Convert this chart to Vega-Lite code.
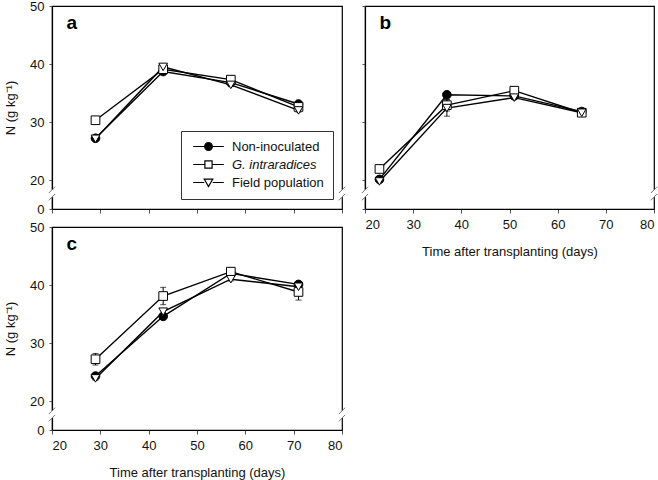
{
  "$schema": "https://vega.github.io/schema/vega-lite/v6.json",
  "background": "white",
  "padding": {"left": 3, "top": -1, "right": 5, "bottom": 0},
  "config": {
    "font": "Liberation Sans",
    "view": {"stroke": "black", "strokeWidth": 1.2},
    "axis": {
      "grid": false, "domainColor": "black", "domainWidth": 1.2, "tickColor": "#555",
      "tickSize": 3, "labelFontSize": 13, "titleFontSize": 13, "labelColor": "#111",
      "titleColor": "#111", "titleFontWeight": "normal", "labelPadding": 5
    },
    "legend": {"labelFontSize": 13, "labelColor": "#111"}
  },
  "datasets": {
    "n": [
      {"panel": "a", "series": "Non-inoculated", "day": 29, "N": 27.2, "err": 0.3},
      {"panel": "a", "series": "Non-inoculated", "day": 43, "N": 38.7, "err": 0.3},
      {"panel": "a", "series": "Non-inoculated", "day": 57, "N": 36.8, "err": 0.3},
      {"panel": "a", "series": "Non-inoculated", "day": 71, "N": 33.1, "err": 0.3},
      {"panel": "a", "series": "G. intraradices", "day": 29, "N": 30.3, "err": 0.3},
      {"panel": "a", "series": "G. intraradices", "day": 43, "N": 39.1, "err": 0.3},
      {"panel": "a", "series": "G. intraradices", "day": 57, "N": 37.3, "err": 0.3},
      {"panel": "a", "series": "G. intraradices", "day": 71, "N": 32.6, "err": 0.3},
      {"panel": "a", "series": "Field population", "day": 29, "N": 27.1, "err": 0.3},
      {"panel": "a", "series": "Field population", "day": 43, "N": 39.5, "err": 0.3},
      {"panel": "a", "series": "Field population", "day": 57, "N": 36.4, "err": 0.3},
      {"panel": "a", "series": "Field population", "day": 71, "N": 32.0, "err": 0.3},
      {"panel": "b", "series": "Non-inoculated", "day": 23, "N": 20.1, "err": 0.3},
      {"panel": "b", "series": "Non-inoculated", "day": 37, "N": 34.7, "err": 0.3},
      {"panel": "b", "series": "Non-inoculated", "day": 51, "N": 34.5, "err": 0.3},
      {"panel": "b", "series": "Non-inoculated", "day": 65, "N": 31.8, "err": 0.3},
      {"panel": "b", "series": "G. intraradices", "day": 23, "N": 21.9, "err": 0.3},
      {"panel": "b", "series": "G. intraradices", "day": 37, "N": 32.9, "err": 1.0},
      {"panel": "b", "series": "G. intraradices", "day": 51, "N": 35.4, "err": 0.3},
      {"panel": "b", "series": "G. intraradices", "day": 65, "N": 31.6, "err": 0.3},
      {"panel": "b", "series": "Field population", "day": 23, "N": 19.0, "err": 0.3},
      {"panel": "b", "series": "Field population", "day": 37, "N": 32.4, "err": 1.4},
      {"panel": "b", "series": "Field population", "day": 51, "N": 34.2, "err": 0.3},
      {"panel": "b", "series": "Field population", "day": 65, "N": 31.6, "err": 0.3},
      {"panel": "c", "series": "Non-inoculated", "day": 29, "N": 24.3, "err": 0.3},
      {"panel": "c", "series": "Non-inoculated", "day": 43, "N": 34.6, "err": 0.4},
      {"panel": "c", "series": "Non-inoculated", "day": 57, "N": 42.0, "err": 0.3},
      {"panel": "c", "series": "Non-inoculated", "day": 71, "N": 40.1, "err": 0.3},
      {"panel": "c", "series": "G. intraradices", "day": 29, "N": 27.2, "err": 1.0},
      {"panel": "c", "series": "G. intraradices", "day": 43, "N": 38.1, "err": 1.5},
      {"panel": "c", "series": "G. intraradices", "day": 57, "N": 42.3, "err": 0.3},
      {"panel": "c", "series": "G. intraradices", "day": 71, "N": 38.8, "err": 1.4},
      {"panel": "c", "series": "Field population", "day": 29, "N": 23.9, "err": 0.3},
      {"panel": "c", "series": "Field population", "day": 43, "N": 35.4, "err": 0.3},
      {"panel": "c", "series": "Field population", "day": 57, "N": 41.0, "err": 0.3},
      {"panel": "c", "series": "Field population", "day": 71, "N": 39.7, "err": 0.3}
    ],
    "brk": [{"brk": 1}]
  },
  "resolve": {"scale": {"shape": "independent", "fill": "independent"}, "legend": {"shape": "independent", "fill": "independent"}},
  "spacing": 13,
  "hconcat": [
    {
      "spacing": 3,
      "resolve": {"scale": {"shape": "independent", "fill": "independent"}, "legend": {"shape": "independent", "fill": "independent"}},
      "vconcat": [
        {
          "width": 290, "height": 203,
          "data": {"name": "n"},
          "transform": [{"filter": "datum.panel == 'a'"}],
          "resolve": {"scale": {"shape": "independent", "fill": "independent"}, "legend": {"shape": "independent", "fill": "independent"}},
          "layer": [
            {
              "mark": {"type": "errorbar", "ticks": {"size": 6, "color": "black"}, "color": "black", "thickness": 1},
              "encoding": {
                "x": {"field": "day", "type": "quantitative", "scale": {"domain": [20, 80], "nice": false, "zero": false}, "axis": {"values": [20, 30, 40, 50, 60, 70, 80], "labels": false, "title": null, "tickSize": 4}},
                "y": {"field": "N", "type": "quantitative", "scale": {"domain": [0, 20, 50], "range": [203, 174, 0], "nice": false, "zero": false}, "axis": {"values": [0, 20, 30, 40, 50], "title": "N (g kg⁻¹)", "titlePadding": 12}},
                "yError": {"field": "err"}
              }
            },
            {
              "mark": {"type": "line", "color": "black", "strokeWidth": 1.4},
              "encoding": {
                "x": {"field": "day", "type": "quantitative"},
                "y": {"field": "N", "type": "quantitative"},
                "detail": {"field": "series"}
              }
            },
            {
              "mark": {"type": "point", "filled": true, "stroke": "black", "strokeWidth": 1, "size": 75, "opacity": 1},
              "encoding": {
                "x": {"field": "day", "type": "quantitative"},
                "y": {"field": "N", "type": "quantitative"},
                "shape": {"field": "series", "type": "nominal", "scale": {"domain": ["Non-inoculated", "G. intraradices", "Field population"], "range": ["circle", "square", "triangle-down"]}, "legend": null},
                "fill": {"field": "series", "type": "nominal", "scale": {"domain": ["Non-inoculated", "G. intraradices", "Field population"], "range": ["black", "white", "white"]}, "legend": null}
              }
            },
            {
              "transform": [{"filter": "datum.panel == 'legend-only'"}],
              "mark": {"type": "point", "filled": true, "stroke": "black", "strokeWidth": 1.2, "size": 81, "opacity": 1},
              "encoding": {
                "x": {"field": "day", "type": "quantitative"},
                "y": {"field": "N", "type": "quantitative"},
                "shape": {"field": "series", "type": "nominal",
                  "scale": {"domain": ["Non-inoculated", "G. intraradices", "Field population"], "range": [
                    "M-3.4,0L-0.85,0A0.85,0.85 0 1,1 0.85,0A0.85,0.85 0 1,1 -0.85,0M0.85,0L3.4,0",
                    "M-3.4,0L-0.8,0M-0.8,-0.8L0.8,-0.8L0.8,0.8L-0.8,0.8ZM0.8,0L3.4,0",
                    "M-3.4,0L-0.95,0M-0.95,-0.75L0.95,-0.75L0,0.9ZM0.95,0L3.4,0"]},
                  "legend": {"title": null, "orient": "none", "legendX": 129, "legendY": 125, "padding": 9, "strokeColor": "#333", "fillColor": "white", "symbolSize": 81, "symbolStrokeWidth": 1.2, "labelOffset": 17, "symbolOffset": 12, "rowPadding": 4,
                    "labelFontStyle": {"expr": "datum.value == 'G. intraradices' ? 'italic' : 'normal'"}}},
                "fill": {"field": "series", "type": "nominal", "scale": {"domain": ["Non-inoculated", "G. intraradices", "Field population"], "range": ["black", "white", "white"]},
                  "legend": {"title": null, "orient": "none", "legendX": 129, "legendY": 125, "padding": 9, "strokeColor": "#333", "fillColor": "white", "symbolSize": 81, "symbolStrokeWidth": 1.2, "labelOffset": 17, "symbolOffset": 12, "rowPadding": 4,
                    "labelFontStyle": {"expr": "datum.value == 'G. intraradices' ? 'italic' : 'normal'"}}}
              }
            },
            {
              "data": {"values": [{"label": "a"}]},
              "mark": {"type": "text", "fontWeight": "bold", "fontSize": 19, "align": "left", "baseline": "middle", "color": "black"},
              "encoding": {"x": {"datum": 23}, "y": {"datum": 47}, "text": {"field": "label"}}
            },
            {"data": {"name": "brk"}, "mark": {"type": "rect", "color": "white"}, "encoding": {"x": {"datum": 19.2}, "x2": {"datum": 20.8}, "y": {"datum": 8.2}, "y2": {"datum": 13.2}}},
            {"data": {"name": "brk"}, "mark": {"type": "rect", "color": "white"}, "encoding": {"x": {"datum": 79.2}, "x2": {"datum": 80.8}, "y": {"datum": 8.2}, "y2": {"datum": 13.2}}},
            {"data": {"name": "brk"}, "mark": {"type": "rule", "color": "#777", "strokeWidth": 1}, "encoding": {"x": {"datum": 19.35}, "x2": {"datum": 20.65}, "y": {"datum": 11.0}, "y2": {"datum": 15.4}}},
            {"data": {"name": "brk"}, "mark": {"type": "rule", "color": "#777", "strokeWidth": 1}, "encoding": {"x": {"datum": 19.35}, "x2": {"datum": 20.65}, "y": {"datum": 6.0}, "y2": {"datum": 10.4}}},
            {"data": {"name": "brk"}, "mark": {"type": "rule", "color": "#777", "strokeWidth": 1}, "encoding": {"x": {"datum": 79.35}, "x2": {"datum": 80.65}, "y": {"datum": 11.0}, "y2": {"datum": 15.4}}},
            {"data": {"name": "brk"}, "mark": {"type": "rule", "color": "#777", "strokeWidth": 1}, "encoding": {"x": {"datum": 79.35}, "x2": {"datum": 80.65}, "y": {"datum": 6.0}, "y2": {"datum": 10.4}}}
          ]
        },
        {
          "width": 290, "height": 203,
          "data": {"name": "n"},
          "transform": [{"filter": "datum.panel == 'c'"}],
          "layer": [
            {
              "mark": {"type": "errorbar", "ticks": {"size": 6, "color": "black"}, "color": "black", "thickness": 1},
              "encoding": {
                "x": {"field": "day", "type": "quantitative", "scale": {"domain": [20, 80], "nice": false, "zero": false}, "axis": {"values": [20, 30, 40, 50, 60, 70, 80], "title": "Time after transplanting (days)", "titlePadding": 14, "tickSize": 4}},
                "y": {"field": "N", "type": "quantitative", "scale": {"domain": [0, 20, 50], "range": [203, 174, 0], "nice": false, "zero": false}, "axis": {"values": [0, 20, 30, 40, 50], "title": "N (g kg⁻¹)", "titlePadding": 12}},
                "yError": {"field": "err"}
              }
            },
            {
              "mark": {"type": "line", "color": "black", "strokeWidth": 1.4},
              "encoding": {
                "x": {"field": "day", "type": "quantitative"},
                "y": {"field": "N", "type": "quantitative"},
                "detail": {"field": "series"}
              }
            },
            {
              "mark": {"type": "point", "filled": true, "stroke": "black", "strokeWidth": 1, "size": 75, "opacity": 1},
              "encoding": {
                "x": {"field": "day", "type": "quantitative"},
                "y": {"field": "N", "type": "quantitative"},
                "shape": {"field": "series", "type": "nominal", "scale": {"domain": ["Non-inoculated", "G. intraradices", "Field population"], "range": ["circle", "square", "triangle-down"]}, "legend": null},
                "fill": {"field": "series", "type": "nominal", "scale": {"domain": ["Non-inoculated", "G. intraradices", "Field population"], "range": ["black", "white", "white"]}, "legend": null}
              }
            },
            {
              "data": {"values": [{"label": "c"}]},
              "mark": {"type": "text", "fontWeight": "bold", "fontSize": 19, "align": "left", "baseline": "middle", "color": "black"},
              "encoding": {"x": {"datum": 23}, "y": {"datum": 47}, "text": {"field": "label"}}
            },
            {"data": {"name": "brk"}, "mark": {"type": "rect", "color": "white"}, "encoding": {"x": {"datum": 19.2}, "x2": {"datum": 20.8}, "y": {"datum": 8.2}, "y2": {"datum": 13.2}}},
            {"data": {"name": "brk"}, "mark": {"type": "rect", "color": "white"}, "encoding": {"x": {"datum": 79.2}, "x2": {"datum": 80.8}, "y": {"datum": 8.2}, "y2": {"datum": 13.2}}},
            {"data": {"name": "brk"}, "mark": {"type": "rule", "color": "#777", "strokeWidth": 1}, "encoding": {"x": {"datum": 19.35}, "x2": {"datum": 20.65}, "y": {"datum": 11.0}, "y2": {"datum": 15.4}}},
            {"data": {"name": "brk"}, "mark": {"type": "rule", "color": "#777", "strokeWidth": 1}, "encoding": {"x": {"datum": 19.35}, "x2": {"datum": 20.65}, "y": {"datum": 6.0}, "y2": {"datum": 10.4}}},
            {"data": {"name": "brk"}, "mark": {"type": "rule", "color": "#777", "strokeWidth": 1}, "encoding": {"x": {"datum": 79.35}, "x2": {"datum": 80.65}, "y": {"datum": 11.0}, "y2": {"datum": 15.4}}},
            {"data": {"name": "brk"}, "mark": {"type": "rule", "color": "#777", "strokeWidth": 1}, "encoding": {"x": {"datum": 79.35}, "x2": {"datum": 80.65}, "y": {"datum": 6.0}, "y2": {"datum": 10.4}}}
          ]
        }
      ]
    },
    {
      "width": 289, "height": 203,
      "data": {"name": "n"},
      "transform": [{"filter": "datum.panel == 'b'"}],
      "layer": [
        {
          "mark": {"type": "errorbar", "ticks": {"size": 6, "color": "black"}, "color": "black", "thickness": 1},
          "encoding": {
            "x": {"field": "day", "type": "quantitative", "scale": {"domain": [20, 80], "nice": false, "zero": false}, "axis": {"values": [20, 30, 40, 50, 60, 70, 80], "title": "Time after transplanting (days)", "titlePadding": 14, "tickSize": 4}},
            "y": {"field": "N", "type": "quantitative", "scale": {"domain": [0, 20, 50], "range": [203, 174, 0], "nice": false, "zero": false}, "axis": {"values": [0, 20, 30, 40, 50], "labels": false, "title": null}},
            "yError": {"field": "err"}
          }
        },
        {
          "mark": {"type": "line", "color": "black", "strokeWidth": 1.4},
          "encoding": {
            "x": {"field": "day", "type": "quantitative"},
            "y": {"field": "N", "type": "quantitative"},
            "detail": {"field": "series"}
          }
        },
        {
          "mark": {"type": "point", "filled": true, "stroke": "black", "strokeWidth": 1, "size": 75, "opacity": 1},
          "encoding": {
            "x": {"field": "day", "type": "quantitative"},
            "y": {"field": "N", "type": "quantitative"},
            "shape": {"field": "series", "type": "nominal", "scale": {"domain": ["Non-inoculated", "G. intraradices", "Field population"], "range": ["circle", "square", "triangle-down"]}, "legend": null},
            "fill": {"field": "series", "type": "nominal", "scale": {"domain": ["Non-inoculated", "G. intraradices", "Field population"], "range": ["black", "white", "white"]}, "legend": null}
          }
        },
        {
          "data": {"values": [{"label": "b"}]},
          "mark": {"type": "text", "fontWeight": "bold", "fontSize": 19, "align": "left", "baseline": "middle", "color": "black"},
          "encoding": {"x": {"datum": 23}, "y": {"datum": 47}, "text": {"field": "label"}}
        },
        {"data": {"name": "brk"}, "mark": {"type": "rect", "color": "white"}, "encoding": {"x": {"datum": 19.2}, "x2": {"datum": 20.8}, "y": {"datum": 8.2}, "y2": {"datum": 13.2}}},
        {"data": {"name": "brk"}, "mark": {"type": "rect", "color": "white"}, "encoding": {"x": {"datum": 79.2}, "x2": {"datum": 80.8}, "y": {"datum": 8.2}, "y2": {"datum": 13.2}}},
        {"data": {"name": "brk"}, "mark": {"type": "rule", "color": "#777", "strokeWidth": 1}, "encoding": {"x": {"datum": 19.35}, "x2": {"datum": 20.65}, "y": {"datum": 11.0}, "y2": {"datum": 15.4}}},
        {"data": {"name": "brk"}, "mark": {"type": "rule", "color": "#777", "strokeWidth": 1}, "encoding": {"x": {"datum": 19.35}, "x2": {"datum": 20.65}, "y": {"datum": 6.0}, "y2": {"datum": 10.4}}},
        {"data": {"name": "brk"}, "mark": {"type": "rule", "color": "#777", "strokeWidth": 1}, "encoding": {"x": {"datum": 79.35}, "x2": {"datum": 80.65}, "y": {"datum": 11.0}, "y2": {"datum": 15.4}}},
        {"data": {"name": "brk"}, "mark": {"type": "rule", "color": "#777", "strokeWidth": 1}, "encoding": {"x": {"datum": 79.35}, "x2": {"datum": 80.65}, "y": {"datum": 6.0}, "y2": {"datum": 10.4}}}
      ]
    }
  ]
}
